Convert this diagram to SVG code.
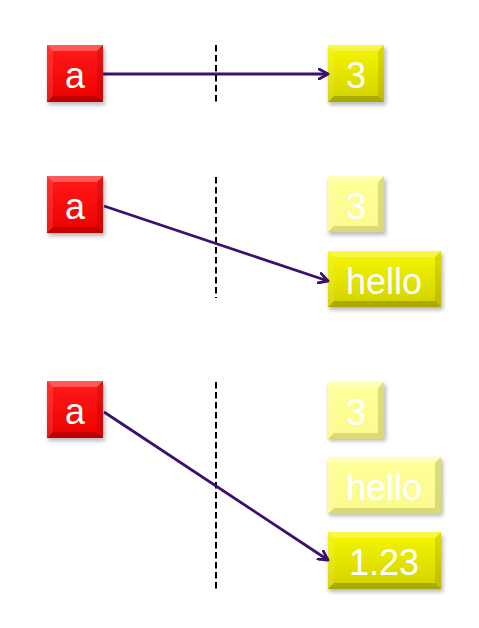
<svg xmlns="http://www.w3.org/2000/svg" width="479" height="628" viewBox="0 0 479 628">
<defs>
<linearGradient id="gRed" x1="0" y1="0" x2="0" y2="1"><stop offset="0" stop-color="#FF1A1A"/><stop offset="1" stop-color="#EE0000"/></linearGradient>
<linearGradient id="gYel" x1="0" y1="0" x2="0" y2="1"><stop offset="0" stop-color="#F6F600"/><stop offset="1" stop-color="#D2D200"/></linearGradient>
<linearGradient id="gFade" x1="0" y1="0" x2="0" y2="1"><stop offset="0" stop-color="#FFFF99"/><stop offset="1" stop-color="#FAFA90"/></linearGradient>
<filter id="sh" x="-20%" y="-20%" width="140%" height="150%"><feGaussianBlur stdDeviation="2"/></filter>
<marker id="ah" viewBox="0 0 12 12" refX="10" refY="6" markerWidth="12" markerHeight="12" markerUnits="userSpaceOnUse" orient="auto"><path d="M1,1 L10,6 L1,11" fill="none" stroke="#3A1070" stroke-width="2.8" stroke-linecap="round" stroke-linejoin="round"/></marker>
</defs>
<style>
.shadow{fill:#000;opacity:0.28;filter:url(#sh)}
.red{fill:url(#gRed)}
.yel{fill:url(#gYel)}
.fade{fill:url(#gFade)}
.bt{fill:#fff;opacity:0.28}
.bl{fill:#fff;opacity:0.1}
.br{fill:#000;opacity:0.1}
.bb{fill:#000;opacity:0.2}
.bbf{fill:#8a8a30;opacity:0.28}
.txt{font-family:"Liberation Sans",Arial,sans-serif;font-size:36px;fill:#fff;text-anchor:middle}
.dash{stroke:#000;stroke-width:2;stroke-dasharray:6.5 3.5;fill:none}
.conn{stroke:#3A1070;stroke-width:2.8;fill:none;marker-end:url(#ah)}
</style>
<rect width="479" height="628" fill="#fff"/>

<g id="dividers">
<line class="dash" x1="216" y1="45" x2="216" y2="103"/>
<line class="dash" x1="216" y1="177" x2="216" y2="298"/>
<line class="dash" x1="216" y1="382" x2="216" y2="589"/>
</g>

<g id="a1">
<rect class="shadow" x="48" y="48" width="57" height="57"/>
<rect class="red" x="47" y="45" width="56" height="57"/>
<polygon class="bt" points="47,45 103,45 97,51 53,51"/>
<polygon class="bl" points="47,45 53,51 53,96 47,102"/>
<polygon class="br" points="103,45 103,102 97,96 97,51"/>
<polygon class="bb" points="47,102 53,96 97,96 103,102"/>
<text class="txt" x="75" y="88">a</text>
</g>
<g id="v3a">
<rect class="shadow" x="329" y="48" width="57" height="57"/>
<rect class="yel" x="328" y="45" width="56" height="57"/>
<polygon class="bt" points="328,45 384,45 378,51 334,51"/>
<polygon class="bl" points="328,45 334,51 334,96 328,102"/>
<polygon class="br" points="384,45 384,102 378,96 378,51"/>
<polygon class="bb" points="328,102 334,96 378,96 384,102"/>
<text class="txt" x="356" y="88">3</text>
</g>

<g id="a2">
<rect class="shadow" x="48" y="179" width="57" height="57"/>
<rect class="red" x="47" y="176" width="56" height="57"/>
<polygon class="bt" points="47,176 103,176 97,182 53,182"/>
<polygon class="bl" points="47,176 53,182 53,227 47,233"/>
<polygon class="br" points="103,176 103,233 97,227 97,182"/>
<polygon class="bb" points="47,233 53,227 97,227 103,233"/>
<text class="txt" x="75" y="219">a</text>
</g>
<g id="v3b">
<rect class="shadow" x="329" y="179" width="57" height="56" opacity="0.15"/>
<rect class="fade" x="328" y="176" width="56" height="56"/>
<polygon class="bt" points="328,176 384,176 378,182 334,182"/>
<polygon class="bl" points="328,176 334,182 334,226 328,232"/>
<polygon class="bbf" points="384,176 384,232 378,226 378,182"/>
<polygon class="bbf" points="328,232 334,226 378,226 384,232"/>
<text class="txt" x="356" y="219">3</text>
</g>
<g id="hello2">
<rect class="shadow" x="329" y="254" width="114" height="56"/>
<rect class="yel" x="328" y="251" width="113" height="56"/>
<polygon class="bt" points="328,251 441,251 435,257 334,257"/>
<polygon class="bl" points="328,251 334,257 334,301 328,307"/>
<polygon class="br" points="441,251 441,307 435,301 435,257"/>
<polygon class="bb" points="328,307 334,301 435,301 441,307"/>
<text class="txt" x="384" y="294">hello</text>
</g>

<g id="a3">
<rect class="shadow" x="48" y="384" width="57" height="57"/>
<rect class="red" x="47" y="381" width="56" height="57"/>
<polygon class="bt" points="47,381 103,381 97,387 53,387"/>
<polygon class="bl" points="47,381 53,387 53,432 47,438"/>
<polygon class="br" points="103,381 103,438 97,432 97,387"/>
<polygon class="bb" points="47,438 53,432 97,432 103,438"/>
<text class="txt" x="75" y="424">a</text>
</g>
<g id="v3c">
<rect class="shadow" x="329" y="385" width="57" height="56" opacity="0.15"/>
<rect class="fade" x="328" y="382" width="56" height="57"/>
<polygon class="bt" points="328,382 384,382 378,388 334,388"/>
<polygon class="bl" points="328,382 334,388 334,433 328,439"/>
<polygon class="bbf" points="384,382 384,439 378,433 378,388"/>
<polygon class="bbf" points="328,439 334,433 378,433 384,439"/>
<text class="txt" x="356" y="425">3</text>
</g>
<g id="hello3">
<rect class="shadow" x="329" y="460" width="114" height="56" opacity="0.15"/>
<rect class="fade" x="328" y="457" width="113" height="57"/>
<polygon class="bt" points="328,457 441,457 435,463 334,463"/>
<polygon class="bl" points="328,457 334,463 334,508 328,514"/>
<polygon class="bbf" points="441,457 441,514 435,508 435,463"/>
<polygon class="bbf" points="328,514 334,508 435,508 441,514"/>
<text class="txt" x="384" y="500">hello</text>
</g>
<g id="v123">
<rect class="shadow" x="329" y="535" width="114" height="57"/>
<rect class="yel" x="328" y="532" width="113" height="57"/>
<polygon class="bt" points="328,532 441,532 435,538 334,538"/>
<polygon class="bl" points="328,532 334,538 334,583 328,589"/>
<polygon class="br" points="441,532 441,589 435,583 435,538"/>
<polygon class="bb" points="328,589 334,583 435,583 441,589"/>
<text class="txt" x="384" y="575">1.23</text>
</g>

<g id="connectors">
<line class="conn" x1="103" y1="74" x2="328" y2="74"/>
<line class="conn" x1="104" y1="206" x2="328" y2="281"/>
<line class="conn" x1="104" y1="412" x2="328" y2="560"/>
</g>
</svg>
